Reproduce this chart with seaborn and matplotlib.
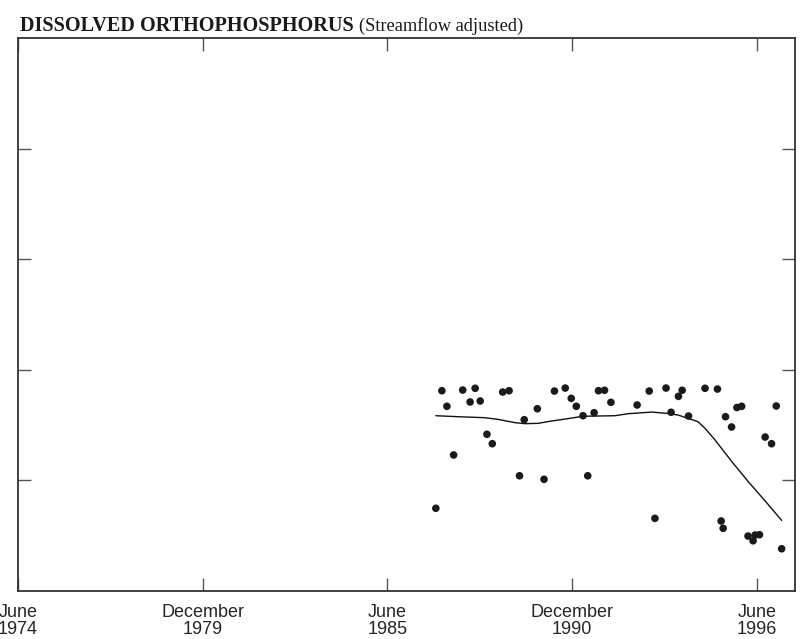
import matplotlib
matplotlib.use("Agg")
import matplotlib.pyplot as plt
import seaborn as sns
import pandas as pd

# Sample dates (decimal years) and streamflow-adjusted values (relative units)
sample_year = [1986.94, 1987.12, 1987.27, 1987.47, 1987.74, 1987.96, 1988.11, 1988.26,
               1988.46, 1988.62, 1988.93, 1989.12, 1989.43, 1989.57, 1989.96, 1990.16,
               1990.47, 1990.79, 1990.97, 1991.12, 1991.32, 1991.46, 1991.65, 1991.78,
               1991.96, 1992.15, 1992.93, 1993.29, 1993.46, 1993.79, 1993.94, 1994.16,
               1994.27, 1994.46, 1994.95, 1995.32, 1995.43, 1995.49, 1995.56, 1995.74,
               1995.90, 1996.04, 1996.23, 1996.38, 1996.44, 1996.57, 1996.74, 1996.93,
               1997.07, 1997.23]
sample_value = [0.748, 1.811, 1.670, 1.230, 1.817, 1.709, 1.833, 1.718,
                1.417, 1.332, 1.799, 1.811, 1.042, 1.549, 1.648, 1.010,
                1.808, 1.835, 1.742, 1.670, 1.585, 1.042, 1.612, 1.811,
                1.815, 1.706, 1.682, 1.808, 0.657, 1.835, 1.616, 1.760,
                1.815, 1.582, 1.833, 1.826, 0.633, 0.567, 1.576, 1.483,
                1.659, 1.670, 0.497, 0.454, 0.506, 0.509, 1.392, 1.332,
                1.673, 0.382]

# Smoothed trend curve
trend_year = [1986.94, 1987.60, 1988.40, 1988.79, 1989.30, 1989.60, 1989.98, 1990.34,
              1990.79, 1991.32, 1992.27, 1992.66, 1993.37, 1993.85, 1994.15, 1994.74,
              1994.95, 1995.25, 1995.75, 1996.24, 1996.74, 1997.23]
trend_value = [1.585, 1.576, 1.567, 1.552, 1.522, 1.513, 1.516, 1.535,
               1.555, 1.580, 1.585, 1.603, 1.618, 1.605, 1.591, 1.531,
               1.471, 1.365, 1.169, 0.988, 0.814, 0.639]

tick_pos = [1974.5, 1980.0, 1985.5, 1991.0, 1996.5]
tick_labels = ["June\n1974", "December\n1979", "June\n1985", "December\n1990", "June\n1996"]
ytick_pos = [1, 2, 3, 4]

sns.set_style("white")

fig = plt.figure(figsize=(8.08, 6.39), dpi=100)
ax = fig.add_axes([0.022, 0.0751, 0.962, 0.8654])

pts = pd.DataFrame({"year": sample_year, "value": sample_value})
trend = pd.DataFrame({"year": trend_year, "value": trend_value})

sns.lineplot(data=trend, x="year", y="value", ax=ax, color="#111111", linewidth=1.0,
             estimator=None, sort=False)
sns.scatterplot(data=pts, x="year", y="value", ax=ax, color="#1a1a1a", s=30,
                edgecolor="none", zorder=3)

ax.set_xlim(1974.5, 1997.63)
ax.set_ylim(0, 5)
ax.set_xticks(tick_pos)
ax.set_xticklabels(tick_labels, family="Liberation Sans", fontsize=13, linespacing=1.0)
ax.set_yticks(ytick_pos)
ax.set_yticklabels([])
ax.set_xlabel("")
ax.set_ylabel("")
ax.tick_params(axis="both", which="both", direction="in", length=9.5, width=1.0,
               color="#555555", top=True, right=True, bottom=True, left=True,
               labeltop=False, labelright=False, labelleft=False)
ax.tick_params(axis="x", pad=9)
for s in ax.spines.values():
    s.set_color("#333333")
    s.set_linewidth(1.3)
    s.set_visible(True)

t1 = fig.text(0.025, 0.951, "DISSOLVED ORTHOPHOSPHORUS", family="Liberation Serif",
              fontweight="bold", fontsize=14.6, va="baseline", ha="left", color="#1a1a1a")
fig.canvas.draw()
bb = t1.get_window_extent(renderer=fig.canvas.get_renderer())
x2 = (bb.x1 + 5) / fig.bbox.width
fig.text(x2, 0.951, "(Streamflow adjusted)", family="Liberation Serif",
         fontsize=13.2, va="baseline", ha="left", color="#1a1a1a")

fig.savefig("out.png", dpi=100)
